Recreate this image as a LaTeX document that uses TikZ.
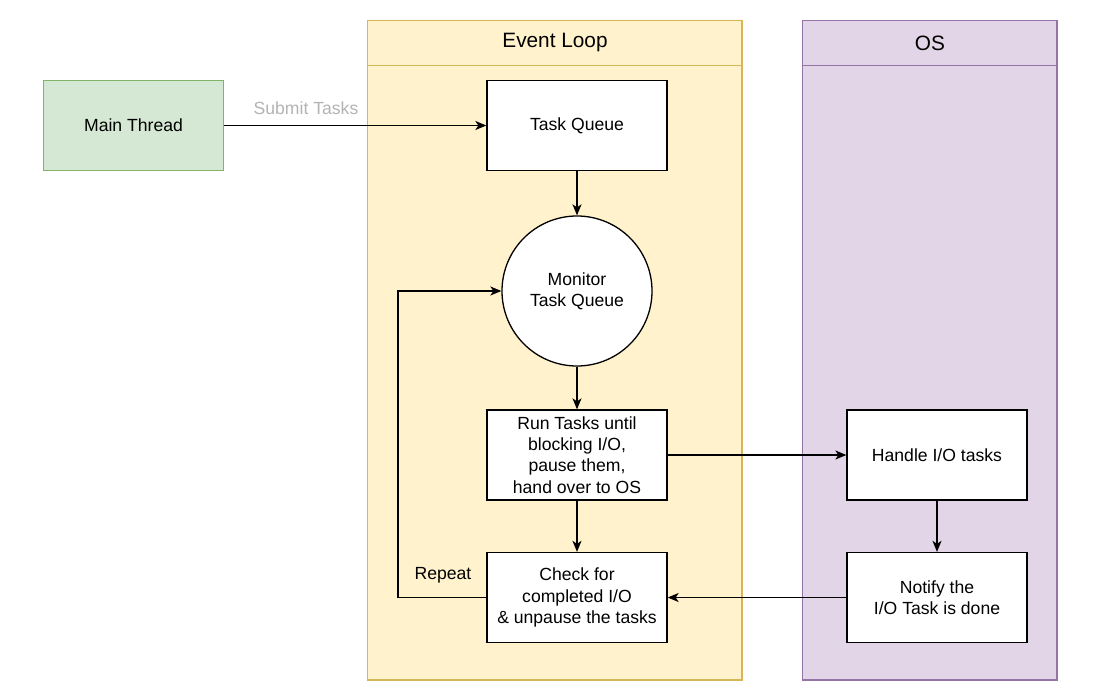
\documentclass[tikz,border=0pt]{standalone}
\usepackage{fontspec}
\setmainfont{Liberation Sans}
\usetikzlibrary{arrows.meta}
\definecolor{elfill}{HTML}{FFF2CC}
\definecolor{elline}{HTML}{D6B656}
\definecolor{osfill}{HTML}{E1D5E7}
\definecolor{osline}{HTML}{9673A6}
\definecolor{mtfill}{HTML}{D5E8D4}
\definecolor{mtline}{HTML}{82B366}
\definecolor{lbl}{HTML}{B3B3B3}
\begin{document}
\begin{tikzpicture}[x=1pt,y=-1pt,
  every node/.style={font=\fontsize{17.6}{21.3}\selectfont, align=center, inner sep=0pt},
  lanehead/.style={font=\fontsize{20.8}{25}\selectfont},
  lane/.style={draw, line width=1.3pt},
  box/.style={draw=black, fill=white, line width=1.3pt, minimum width=180pt, minimum height=90pt},
  conn/.style={line width=1.3pt, -{Stealth[length=11pt,width=9pt,inset=3pt]}}]
\useasboundingbox (0,0) rectangle (1106,691);
% swimlanes
\draw[lane, draw=elline, fill=elfill] (367.5,20.5) rectangle (742,680);
\draw[lane, draw=elline] (367.5,65.5) -- (742,65.5);
\node[lanehead] (elhead) at (555,43) {Event Loop};
\draw[lane, draw=osline, fill=osfill] (802.5,20.5) rectangle (1057,680);
\draw[lane, draw=osline] (802.5,65.5) -- (1057,65.5);
\node[lanehead] (oshead) at (930,43) {OS};
% nodes
\node[box, fill=mtfill, draw=mtline] (main) at (133.5,125.5) {Main Thread};
\node[box] (queue) at (577,125.5) {Task Queue};
\node[draw=black, fill=white, line width=1.3pt, circle, minimum size=150pt] (mon) at (577,291) {Monitor\\Task Queue};
\node[box] (run) at (577,455) {Run Tasks until\\blocking I/O,\\pause them,\\hand over to OS};
\node[box] (check) at (577,597.5) {Check for\\completed I/O\\\& unpause the tasks};
\node[box] (handle) at (937,455) {Handle I/O tasks};
\node[box] (notify) at (937,597.5) {Notify the\\I/O Task is done};
% connectors
\draw[conn] (main) -- (queue);
\node[text=lbl] (sublbl) at (306,108) {Submit Tasks};
\draw[conn] (queue) -- (mon);
\draw[conn] (mon) -- (run);
\draw[conn] (run) -- (check);
\draw[conn] (run) -- (handle);
\draw[conn] (handle) -- (notify);
\draw[conn] (notify) -- (check);
\coordinate (rp1) at (398,597.5);
\coordinate (rp2) at (398,291);
\draw[conn] (check.west) -- (rp1) -- (rp2) -- (mon.west);
\node (replbl) at (443,575) {Repeat};
\end{tikzpicture}
\end{document}
